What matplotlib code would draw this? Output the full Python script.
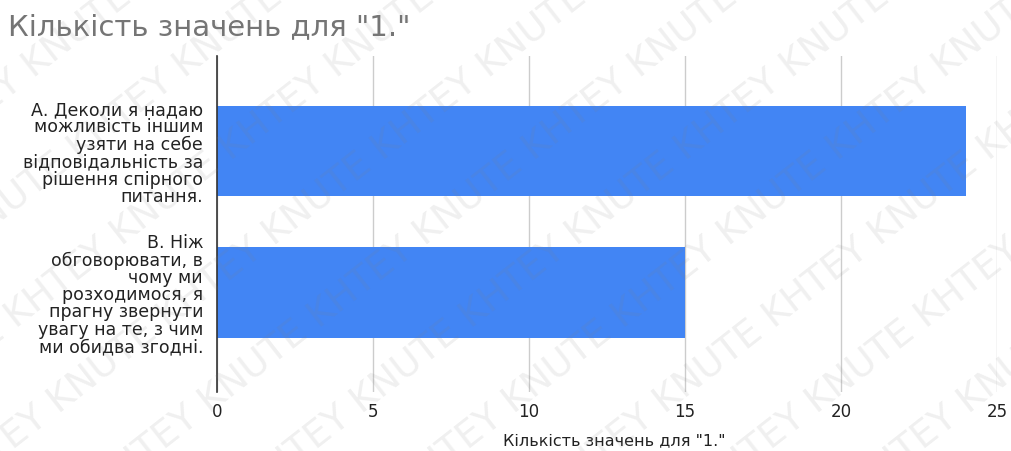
import numpy as np
import matplotlib.pyplot as plt

plt.rcParams['font.family'] = ['DejaVu Sans']

# answers and counts
answers = [
    "А. Деколи я надаю\nможливість іншим\nузяти на себе\nвідповідальність за\nрішення спірного\nпитання.",
    "В. Ніж\nобговорювати, в\nчому ми\nрозходимося, я\nпрагну звернути\nувагу на те, з чим\nми обидва згодні.",
]
counts = [24, 15]
xticks = [0, 5, 10, 15, 20, 25]
title = 'Кількість значень для "1."'

fig = plt.figure(figsize=(10.11, 4.52), dpi=100)
ax = fig.add_axes([0.2146, 0.1305, 0.7715, 0.7435])

ypos = np.arange(len(answers))
ax.barh(ypos, counts, height=0.64, color='#4285f4', zorder=3)

ax.set_xlim(0, 25)
ax.set_ylim(1.704, -0.671)
ax.set_xticks(xticks)
ax.set_xticklabels([str(t) for t in xticks], fontsize=12, color='#222222')
ax.set_yticks(ypos)
ax.set_yticklabels(answers, fontsize=12.5, color='#222222', linespacing=0.95)
ax.tick_params(axis='y', length=0, pad=10)
ax.tick_params(axis='x', length=0, pad=7)
ax.grid(axis='x', color='#cccccc', linewidth=1, zorder=0)
for s in ['top', 'right', 'bottom']:
    ax.spines[s].set_visible(False)
ax.spines['left'].set_color('#333333')
ax.spines['left'].set_linewidth(1.2)
ax.spines['left'].set_zorder(4)

# axis title under the ticks
fig.text(0.608, 0.026, title, fontsize=11.5, color='#222222', ha='center', va='center')
fig.text(0.008, 0.94, title, fontsize=21, color='#757575', va='center', ha='left')

# diagonal watermark across the whole figure
for i in range(-8, 10):
    fig.text(-0.3 + i * 0.15, -0.3, ("KNUTE KHTEY " * 6),
             fontsize=27, color='#808080', alpha=0.12, rotation=38,
             ha='left', va='bottom', zorder=10,
             rotation_mode='anchor')

fig.savefig('out.png', dpi=100)
